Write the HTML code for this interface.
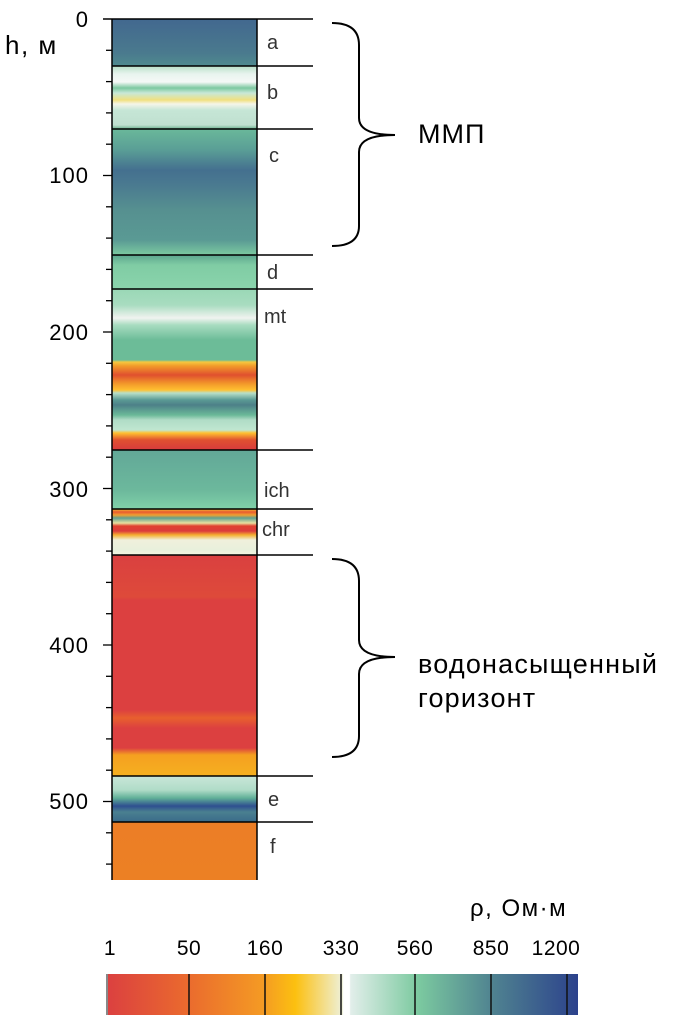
<!DOCTYPE html>
<html><head><meta charset="utf-8"><style>
html,body{margin:0;padding:0;background:#fff;}
body{width:678px;height:1021px;position:relative;overflow:hidden;font-family:"Liberation Sans","DejaVu Sans",sans-serif;}
</style></head><body>
<svg width="678" height="1021" xmlns="http://www.w3.org/2000/svg" style="position:absolute;left:0;top:0">
<defs>
<linearGradient id="col" gradientUnits="userSpaceOnUse" x1="0" y1="19" x2="0" y2="880">
<stop offset="0" stop-color="#42688f"/>
<stop offset="0.04" stop-color="#4a7a8e"/>
<stop offset="0.054" stop-color="#4f8a8f"/>
<stop offset="0.0546" stop-color="#b8e0c8"/>
<stop offset="0.0639" stop-color="#e8f4ee"/>
<stop offset="0.0732" stop-color="#f5f8f6"/>
<stop offset="0.0801" stop-color="#7cc8a0"/>
<stop offset="0.086" stop-color="#c8e8d8"/>
<stop offset="0.0941" stop-color="#f0e080"/>
<stop offset="0.0987" stop-color="#f5f5e8"/>
<stop offset="0.1057" stop-color="#c6e6d6"/>
<stop offset="0.1231" stop-color="#c0e0d0"/>
<stop offset="0.127" stop-color="#78b898"/>
<stop offset="0.1278" stop-color="#6ab89a"/>
<stop offset="0.1521" stop-color="#5a9e96"/>
<stop offset="0.1754" stop-color="#44708f"/>
<stop offset="0.1928" stop-color="#4a7a90"/>
<stop offset="0.2218" stop-color="#569090"/>
<stop offset="0.2567" stop-color="#5a9a94"/>
<stop offset="0.2741" stop-color="#7ccaa0"/>
<stop offset="0.2747" stop-color="#5ea890"/>
<stop offset="0.2857" stop-color="#80cca4"/>
<stop offset="0.3136" stop-color="#8ad4ac"/>
<stop offset="0.3142" stop-color="#9ad8b6"/>
<stop offset="0.3322" stop-color="#a8dcc0"/>
<stop offset="0.3473" stop-color="#f0f3f0"/>
<stop offset="0.3554" stop-color="#a8dcc0"/>
<stop offset="0.3728" stop-color="#6cbc98"/>
<stop offset="0.3960" stop-color="#6cbc98"/>
<stop offset="0.3984" stop-color="#f5c840"/>
<stop offset="0.4030" stop-color="#f29a2a"/>
<stop offset="0.4135" stop-color="#e0502e"/>
<stop offset="0.4239" stop-color="#f39a2a"/>
<stop offset="0.4309" stop-color="#ffc030"/>
<stop offset="0.4344" stop-color="#b8e0c8"/>
<stop offset="0.4425" stop-color="#5a9a94"/>
<stop offset="0.4483" stop-color="#4d8088"/>
<stop offset="0.4599" stop-color="#6ab898"/>
<stop offset="0.4657" stop-color="#b0dcc6"/>
<stop offset="0.4774" stop-color="#c0e6d0"/>
<stop offset="0.4808" stop-color="#ffc030"/>
<stop offset="0.4890" stop-color="#e05030"/>
<stop offset="0.5000" stop-color="#d83c3c"/>
<stop offset="0.5006" stop-color="#62a898"/>
<stop offset="0.5470" stop-color="#6cb89c"/>
<stop offset="0.5685" stop-color="#80d0a8"/>
<stop offset="0.5691" stop-color="#f5c030"/>
<stop offset="0.5726" stop-color="#e85a30"/>
<stop offset="0.5761" stop-color="#f0a030"/>
<stop offset="0.5796" stop-color="#60a090"/>
<stop offset="0.5854" stop-color="#e8e0a0"/>
<stop offset="0.5889" stop-color="#e04030"/>
<stop offset="0.5947" stop-color="#dc3c3c"/>
<stop offset="0.5993" stop-color="#f5b030"/>
<stop offset="0.6051" stop-color="#f0f0dc"/>
<stop offset="0.6167" stop-color="#e8f0dc"/>
<stop offset="0.6225" stop-color="#f5f5e0"/>
<stop offset="0.6231" stop-color="#da4040"/>
<stop offset="0.6713" stop-color="#de4a3a"/>
<stop offset="0.6748" stop-color="#dc4040"/>
<stop offset="0.8026" stop-color="#dc4040"/>
<stop offset="0.8118" stop-color="#e8602e"/>
<stop offset="0.8235" stop-color="#dc4040"/>
<stop offset="0.8467" stop-color="#dc4040"/>
<stop offset="0.8548" stop-color="#f5a020"/>
<stop offset="0.8792" stop-color="#f5b020"/>
<stop offset="0.8798" stop-color="#c8e6d8"/>
<stop offset="0.8955" stop-color="#b0dcc8"/>
<stop offset="0.9048" stop-color="#60b098"/>
<stop offset="0.9141" stop-color="#2e4f90"/>
<stop offset="0.9210" stop-color="#4a8090"/>
<stop offset="0.9326" stop-color="#3a6a8a"/>
<stop offset="0.9332" stop-color="#ec7e26"/>
<stop offset="1" stop-color="#ec8024"/>
</linearGradient>
<linearGradient id="cb" x1="0" y1="0" x2="1" y2="0">
<stop offset="0" stop-color="#db4040"/>
<stop offset="0.17" stop-color="#ea6a2e"/>
<stop offset="0.33" stop-color="#f49a24"/>
<stop offset="0.40" stop-color="#fcc010"/>
<stop offset="0.50" stop-color="#eef0d8"/>
<stop offset="0.502" stop-color="#ffffff"/>
<stop offset="0.515" stop-color="#ffffff"/>
<stop offset="0.517" stop-color="#e2eeea"/>
<stop offset="0.66" stop-color="#7ccaa0"/>
<stop offset="0.82" stop-color="#4f8290"/>
<stop offset="1" stop-color="#2c428c"/>
</linearGradient>
</defs>
<rect x="112" y="19" width="145" height="861" fill="url(#col)"/>
<g stroke="#000" stroke-width="1.5">
<line x1="112" y1="19" x2="112" y2="880"/>
<line x1="257" y1="19" x2="257" y2="880"/>
<line x1="103" y1="19" x2="313" y2="19"/>
<line x1="112" y1="66" x2="313" y2="66"/>
<line x1="112" y1="129" x2="313" y2="129"/>
<line x1="112" y1="255" x2="313" y2="255"/>
<line x1="112" y1="289" x2="313" y2="289"/>
<line x1="112" y1="450" x2="313" y2="450"/>
<line x1="112" y1="509" x2="313" y2="509"/>
<line x1="112" y1="555" x2="313" y2="555"/>
<line x1="112" y1="776" x2="313" y2="776"/>
<line x1="112" y1="822" x2="313" y2="822"/>
</g>
<g stroke="#000" stroke-width="1.3">
<line x1="106" y1="50.3" x2="112" y2="50.3"/><line x1="106" y1="81.6" x2="112" y2="81.6"/><line x1="106" y1="112.9" x2="112" y2="112.9"/><line x1="106" y1="144.2" x2="112" y2="144.2"/>
<line x1="103" y1="175.5" x2="112" y2="175.5"/><line x1="106" y1="206.8" x2="112" y2="206.8"/><line x1="106" y1="238.1" x2="112" y2="238.1"/><line x1="106" y1="269.4" x2="112" y2="269.4"/><line x1="106" y1="300.7" x2="112" y2="300.7"/>
<line x1="103" y1="332" x2="112" y2="332"/><line x1="106" y1="363.3" x2="112" y2="363.3"/><line x1="106" y1="394.6" x2="112" y2="394.6"/><line x1="106" y1="425.9" x2="112" y2="425.9"/><line x1="106" y1="457.2" x2="112" y2="457.2"/>
<line x1="103" y1="488.5" x2="112" y2="488.5"/><line x1="106" y1="519.8" x2="112" y2="519.8"/><line x1="106" y1="551.1" x2="112" y2="551.1"/><line x1="106" y1="582.4" x2="112" y2="582.4"/><line x1="106" y1="613.7" x2="112" y2="613.7"/>
<line x1="103" y1="645" x2="112" y2="645"/><line x1="106" y1="676.3" x2="112" y2="676.3"/><line x1="106" y1="707.6" x2="112" y2="707.6"/><line x1="106" y1="738.9" x2="112" y2="738.9"/><line x1="106" y1="770.2" x2="112" y2="770.2"/>
<line x1="103" y1="801.5" x2="112" y2="801.5"/><line x1="106" y1="832.8" x2="112" y2="832.8"/><line x1="106" y1="864.1" x2="112" y2="864.1"/>
</g>
<g font-size="22" fill="#000" text-anchor="end" letter-spacing="1">
<text x="89" y="27">0</text>
<text x="89" y="183">100</text>
<text x="89" y="340">200</text>
<text x="89" y="497">300</text>
<text x="89" y="653">400</text>
<text x="89" y="809">500</text>
</g>
<text x="5" y="54" font-size="26" letter-spacing="1.5">h, м</text>
<g font-size="20" fill="#333">
<text x="267" y="49">a</text>
<text x="267" y="99">b</text>
<text x="269" y="162">c</text>
<text x="267" y="279">d</text>
<text x="264" y="323">mt</text>
<text x="264" y="497">ich</text>
<text x="262" y="536">chr</text>
<text x="268" y="806">e</text>
<text x="270" y="853">f</text>
</g>
<g fill="none" stroke="#000" stroke-width="2">
<path d="M332 23 Q359 23 359 45 L359 118 Q359 135 395 135 Q359 135 359 152 L359 226 Q359 246 332 246"/>
<path d="M332 559 Q359 559 359 581 L359 640 Q359 657 395 657 Q359 657 359 674 L359 736 Q359 757 332 757"/>
</g>
<text x="418" y="143" font-size="27" letter-spacing="1">ММП</text>
<text x="418" y="673" font-size="27" letter-spacing="1.2">водонасыщенный</text>
<text x="418" y="707" font-size="27" letter-spacing="1.2">горизонт</text>
<text x="470" y="916" font-size="24" letter-spacing="1.5">ρ, Ом·м</text>
<g font-size="21" text-anchor="middle" letter-spacing="0.5">
<text x="110" y="955">1</text>
<text x="189" y="955">50</text>
<text x="265" y="955">160</text>
<text x="341" y="955">330</text>
<text x="415" y="955">560</text>
<text x="491" y="955">850</text>
<text x="556" y="955">1200</text>
</g>
<rect x="107" y="974" width="471" height="41" fill="url(#cb)"/>
<line x1="107" y1="974" x2="107" y2="1015" stroke="#888" stroke-width="2"/>
<g stroke="#111" stroke-width="1.5">
<line x1="189" y1="974" x2="189" y2="1015"/><line x1="265" y1="974" x2="265" y2="1015"/><line x1="341" y1="974" x2="341" y2="1015"/>
<line x1="415" y1="974" x2="415" y2="1015"/><line x1="491" y1="974" x2="491" y2="1015"/><line x1="567" y1="974" x2="567" y2="1015"/>
</g>
</svg>
</body></html>
